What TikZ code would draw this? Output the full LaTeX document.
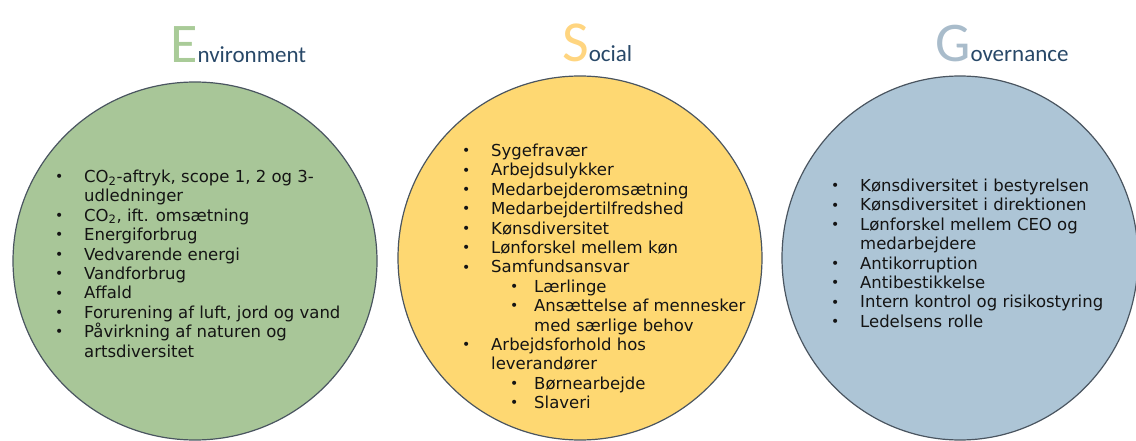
\documentclass[tikz,border=0pt]{standalone}
\usepackage{fontspec}
\setmainfont{DejaVu Sans}
\newfontfamily\headfont{Carlito}
\definecolor{envfill}{HTML}{A8C698}
\definecolor{socfill}{HTML}{FED872}
\definecolor{govfill}{HTML}{ADC5D6}
\definecolor{envletter}{HTML}{A9CB98}
\definecolor{socletter}{HTML}{FFD580}
\definecolor{govletter}{HTML}{A9BCCB}
\definecolor{headtext}{HTML}{284868}
\definecolor{rim}{HTML}{4A5560}
\definecolor{bodytext}{HTML}{141414}
\newcommand\bulcol[1]{\makebox[#1][l]{\fontsize{14}{14}\selectfont\raisebox{0.05em}{•}}}
\newcommand\bl{\bulcol{29pt}}
\newcommand\ind{\hspace*{29pt}}
\newcommand\sbl{\hspace*{48pt}\bulcol{24pt}}
\newcommand\sind{\hspace*{72pt}}
\begin{document}
\begin{tikzpicture}[x=1pt,y=-1pt,
  disc/.style={draw=rim,line width=1.2pt},
  heading/.style={anchor=base west,inner sep=0pt,text=headtext},
  listbox/.style={anchor=base west,inner sep=0pt,text=bodytext,font=\fontsize{16.5}{19.4}\selectfont}]
\useasboundingbox (0,0) rectangle (1136,441);
% circles
\filldraw[disc,fill=envfill] (195,261) ellipse [x radius=182, y radius=179];
\filldraw[disc,fill=socfill] (580,258) ellipse [x radius=182, y radius=182];
\filldraw[disc,fill=govfill] (960,258) ellipse [x radius=178, y radius=182];
% headings
\node[heading] (envhead) at (170,63) {{\headfont\fontsize{56}{56}\selectfont\color{envletter}E}{\headfont\fontsize{23}{23}\selectfont nvironment}};
\node[heading] (sochead) at (562,62) {{\headfont\fontsize{58}{58}\selectfont\color{socletter}S}{\headfont\fontsize{23}{23}\selectfont ocial}};
\node[heading] (govhead) at (935,62) {{\headfont\fontsize{56}{56}\selectfont\color{govletter}G}{\headfont\fontsize{23}{23}\selectfont overnance}};
% lists
\node[listbox] (envlist) at (55,182.5) {\begin{minipage}[t]{330pt}
\bl CO\textsubscript{2}-aftryk, scope 1, 2 og 3-\\
\ind udledninger\\
\bl CO\textsubscript{2}, ift. omsætning\\
\bl Energiforbrug\\
\bl Vedvarende energi\\
\bl Vandforbrug\\
\bl Affald\\
\bl Forurening af luft, jord og vand\\
\bl Påvirkning af naturen og\\
\ind artsdiversitet
\end{minipage}};
\node[listbox] (soclist) at (462,156.5) {\begin{minipage}[t]{300pt}
\bl Sygefravær\\
\bl Arbejdsulykker\\
\bl Medarbejderomsætning\\
\bl Medarbejdertilfredshed\\
\bl Kønsdiversitet\\
\bl Lønforskel mellem køn\\
\bl Samfundsansvar\\
\sbl Lærlinge\\
\sbl Ansættelse af mennesker\\
\sind med særlige behov\\
\bl Arbejdsforhold hos\\
\ind leverandører\\
\sbl Børnearbejde\\
\sbl Slaveri
\end{minipage}};
\node[listbox] (govlist) at (831,191.5) {\begin{minipage}[t]{300pt}
\bl Kønsdiversitet i bestyrelsen\\
\bl Kønsdiversitet i direktionen\\
\bl Lønforskel mellem CEO og\\
\ind medarbejdere\\
\bl Antikorruption\\
\bl Antibestikkelse\\
\bl Intern kontrol og risikostyring\\
\bl Ledelsens rolle
\end{minipage}};
\end{tikzpicture}
\end{document}
